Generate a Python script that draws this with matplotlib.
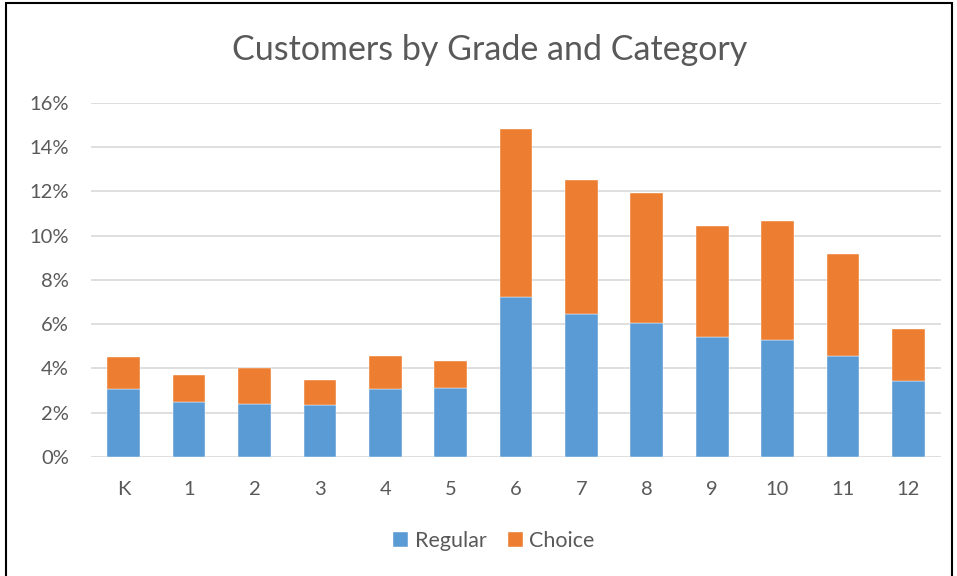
import matplotlib
matplotlib.use("Agg")
import matplotlib.pyplot as plt
from matplotlib.patches import Rectangle
from matplotlib.ticker import FuncFormatter, MultipleLocator

grades = ["K", "1", "2", "3", "4", "5", "6", "7", "8", "9", "10", "11", "12"]
regular = [3.05, 2.49, 2.41, 2.37, 3.05, 3.12, 7.22, 6.48, 6.03, 5.40, 5.27, 4.54, 3.44]
choice = [1.47, 1.20, 1.59, 1.10, 1.50, 1.21, 7.58, 6.04, 5.89, 5.03, 5.41, 4.62, 2.35]

plt.rcParams['font.family'] = ['Lato', 'DejaVu Sans']
txt = '#595959'
fig = plt.figure(figsize=(9.57, 5.76), dpi=100)
W, H = 957, 576
ax = fig.add_axes([91 / W, 1 - 457 / H, (941 - 91) / W, (457 - 102.7) / H])

x = range(len(grades))
ax.bar(x, regular, width=0.5, color='#5b9bd5', label='Regular', zorder=3,
       edgecolor='white', linewidth=0.3)
ax.bar(x, choice, width=0.5, bottom=regular, color='#ed7d31', label='Choice', zorder=3,
       edgecolor='white', linewidth=0.3)

ax.set_ylim(0, 16)
ax.set_xlim(-0.5, len(grades) - 0.5)
ax.yaxis.set_major_locator(MultipleLocator(2))
ax.yaxis.set_major_formatter(FuncFormatter(lambda v, p: f"{v:.0f}%"))
ax.grid(axis='y', color='#d9d9d9', linewidth=1.2, zorder=0)
for s in ax.spines.values():
    s.set_visible(False)
ax.tick_params(axis='both', length=0, colors=txt, labelsize=14.5)
ax.tick_params(axis='y', pad=16)
ax.tick_params(axis='x', pad=17)
ax.set_xticks(list(x))
ax.set_xticklabels(grades)

fig.text(490 / W, 1 - 50 / H, "Customers by Grade and Category", ha='center', va='center',
         fontsize=24.5, color=txt)

leg = fig.legend(loc='center', bbox_to_anchor=(494 / W, 1 - 541 / H), ncol=2, frameon=False,
                 fontsize=15.5, handlelength=0.7, handleheight=0.7, handletextpad=0.3,
                 columnspacing=1.0, labelcolor=txt)

fig.patches.append(Rectangle((6 / W, -0.01), (952 - 6) / W, 1 - 3 / H + 0.01,
                             transform=fig.transFigure, fill=False, edgecolor='black',
                             linewidth=1.5))

fig.savefig("out.png", dpi=100)
